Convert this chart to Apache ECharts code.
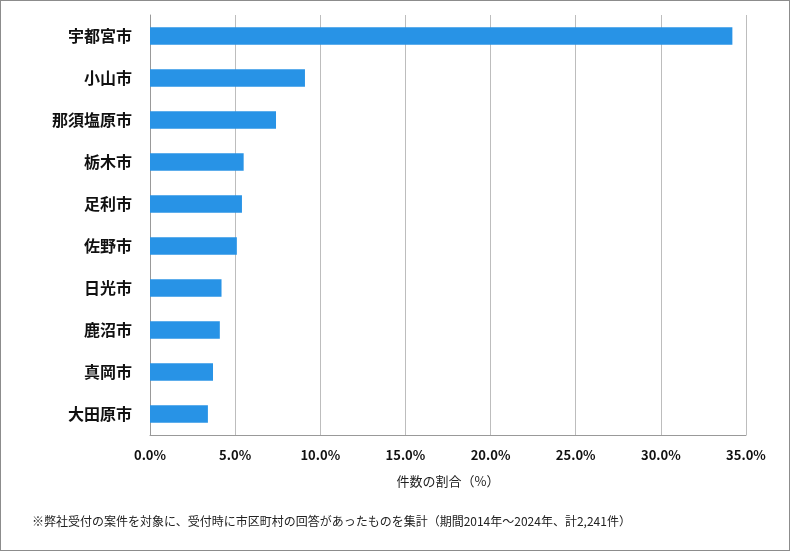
<!DOCTYPE html>
<html><head><meta charset="utf-8">
<script src="https://cdn.jsdelivr.net/npm/echarts@6/dist/echarts.min.js"></script>
<style>
html,body{margin:0;padding:0;background:#fff;}
#c{width:790px;height:551px;box-sizing:border-box;border:1px solid #8c8c8c;}
</style></head>
<body><div id="c"></div>
<script>
const categories = ['宇都宮市','小山市','那須塩原市','栃木市','足利市','佐野市','日光市','鹿沼市','真岡市','大田原市'];
const shares = [34.2, 9.1, 7.4, 5.5, 5.4, 5.1, 4.2, 4.1, 3.7, 3.4];
const axisName = '件数の割合（%）';
const footnote = '※弊社受付の案件を対象に、受付時に市区町村の回答があったものを集計（期間2014年～2024年、計2,241件）';
const font = '"Noto Sans CJK JP", "Noto Sans", sans-serif';

const chart = echarts.init(document.getElementById('c'));
chart.setOption({
  animation: false,
  textStyle: { fontFamily: font },
  grid: { left: 149, right: 43, top: 14, bottom: 115, containLabel: false },
  xAxis: {
    type: 'value', min: 0, max: 35, interval: 5,
    name: axisName, nameLocation: 'middle', nameGap: 40,
    nameTextStyle: { fontSize: 13, color: '#222', fontFamily: font },
    axisLabel: { formatter: v => v.toFixed(1) + '%', fontSize: 13, fontWeight: 'bold', color: '#111', margin: 14, fontFamily: font },
    axisLine: { show: true, lineStyle: { color: '#999' } },
    axisTick: { show: false },
    splitLine: { show: true, lineStyle: { color: '#bdbdbd' } }
  },
  yAxis: {
    type: 'category', data: categories, inverse: true,
    axisLabel: { fontSize: 16, fontWeight: 'bold', color: '#111', margin: 18, fontFamily: font },
    axisLine: { show: true, lineStyle: { color: '#999' } },
    axisTick: { show: false }
  },
  series: [{
    type: 'bar', data: shares, barWidth: '42%',
    itemStyle: { color: '#2893e6' }
  }],
  graphic: [{
    type: 'text', left: 31, top: 514,
    style: { text: footnote, fontSize: 12, fill: '#222', fontFamily: font }
  }]
});
</script></body></html>
